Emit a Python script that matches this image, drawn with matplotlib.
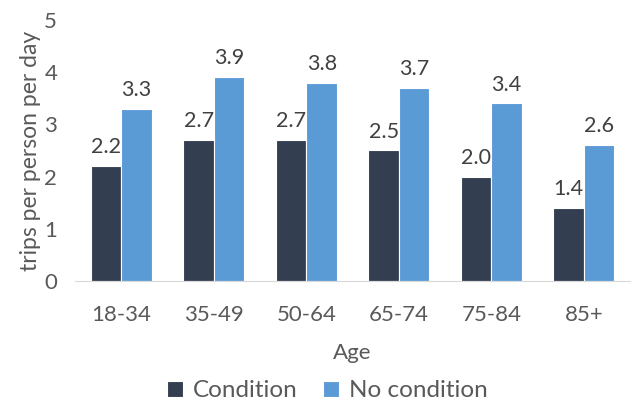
import numpy as np
import matplotlib.pyplot as plt

ages = ["18-34", "35-49", "50-64", "65-74", "75-84", "85+"]
condition = [2.2, 2.7, 2.7, 2.5, 2.0, 1.4]
no_condition = [3.3, 3.9, 3.8, 3.7, 3.4, 2.6]

dark = "#333F50"
blue = "#5B9BD5"
grey = "#595959"

plt.rcParams['font.family'] = ['Lato', 'DejaVu Sans']

fig = plt.figure(figsize=(6.32, 4.05), dpi=100)
ax = fig.add_axes([0.119, 0.306, 0.878, 0.645])

x = np.arange(len(ages))
w = 0.33
b1 = ax.bar(x - w/2, condition, w, color=dark, edgecolor="white", linewidth=0.8, label="Condition")
b2 = ax.bar(x + w/2, no_condition, w, color=blue, edgecolor="white", linewidth=0.8, label="No condition")

for bars, vals in ((b1, condition), (b2, no_condition)):
    for r, v in zip(bars, vals):
        ax.text(r.get_x() + r.get_width()/2, v + 0.17, f"{v:.1f}",
                ha="center", va="bottom", fontsize=15.5, color="#404040")

ax.set_ylim(0, 5)
ax.set_xlim(-0.5, len(ages) - 0.5)
ax.set_yticks(range(6))
ax.set_xticks(x)
ax.set_xticklabels(ages)
ax.tick_params(axis="both", length=0, labelsize=16, colors=grey)
ax.tick_params(axis="x", pad=17)
ax.tick_params(axis="y", pad=13)
for s in ("top", "right", "left"):
    ax.spines[s].set_visible(False)
ax.spines["bottom"].set_color("#D9D9D9")

ax.set_xlabel("Age", fontsize=16, color=grey, labelpad=13)
ax.set_ylabel("trips per person per day", fontsize=16.5, color=grey, labelpad=2)

fig.legend(handles=[b1, b2], loc="lower center", bbox_to_anchor=(0.518, -0.045), ncol=2,
           frameon=False, fontsize=17.5, labelcolor=grey, handlelength=0.67,
           handleheight=0.67, handletextpad=0.4, columnspacing=1.05)

fig.savefig("out.png", dpi=100)
